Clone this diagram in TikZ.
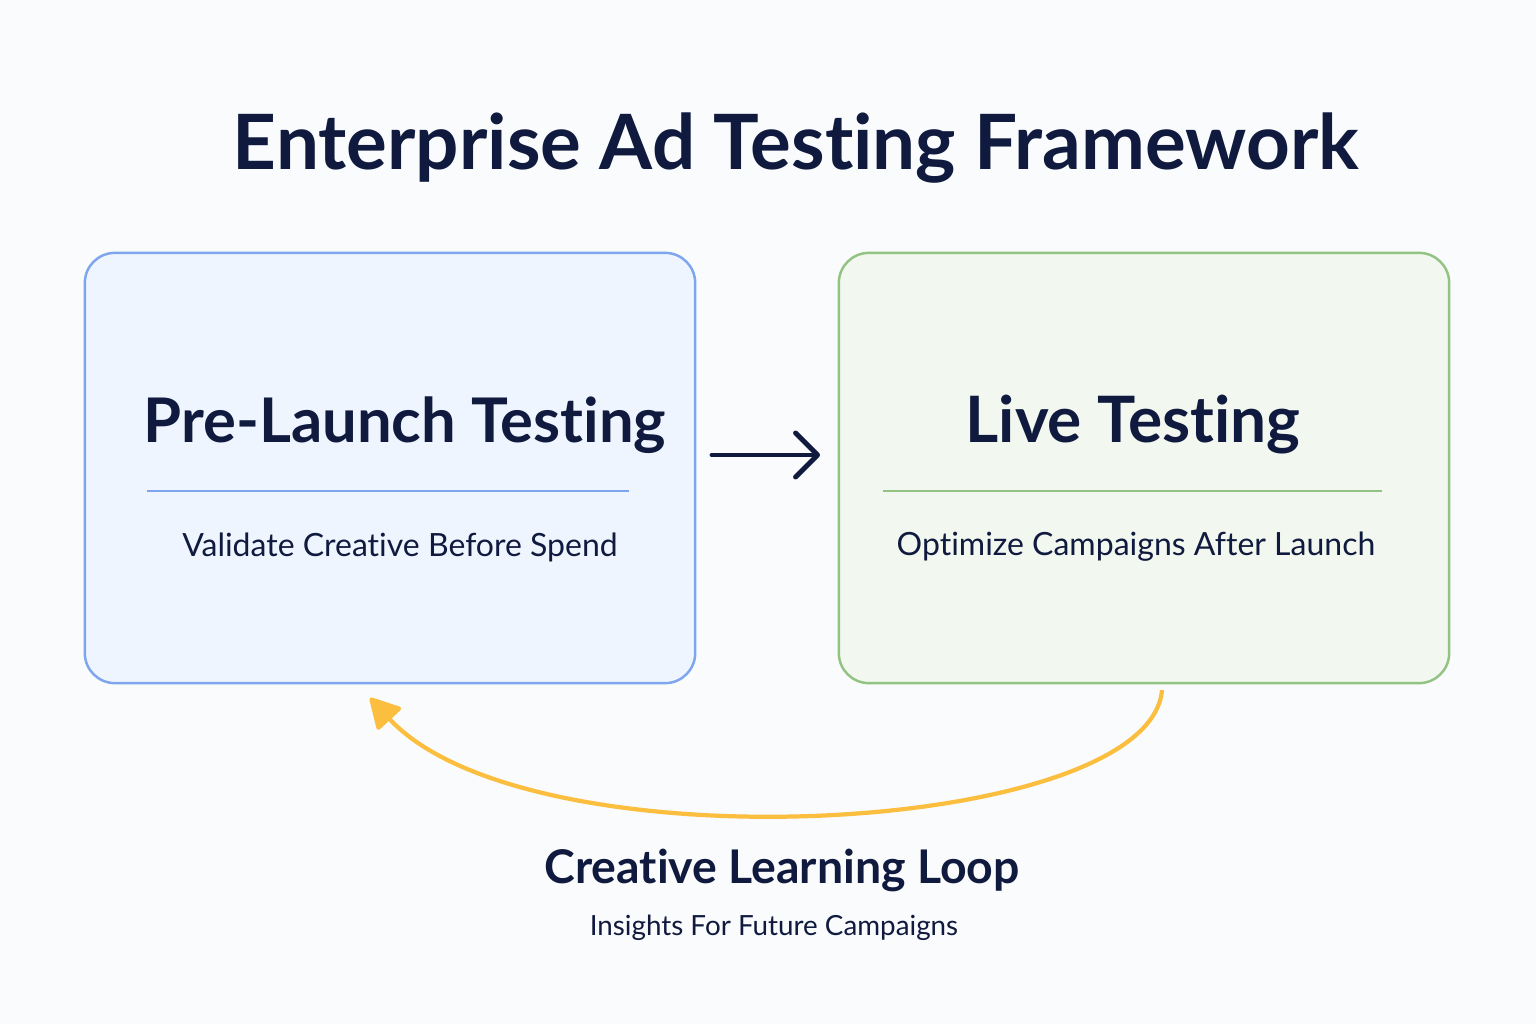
\documentclass[tikz,border=0pt]{standalone}
\usepackage{fontspec}
\setmainfont[Ligatures=NoCommon]{Lato}
\usepackage{xcolor}
\usetikzlibrary{positioning,arrows.meta}

\definecolor{inkblue}{HTML}{101A3E}
\definecolor{preline}{HTML}{7DA6EE}
\definecolor{prefill}{HTML}{EFF5FE}
\definecolor{liveline}{HTML}{93C383}
\definecolor{livefill}{HTML}{F2F7EF}
\definecolor{loopcol}{HTML}{FBBE3E}
\definecolor{pagebg}{HTML}{FAFBFC}

\begin{document}
\begin{tikzpicture}
[x=0.01cm, y=-0.01cm, text=inkblue,
    stage/.style={rectangle, rounded corners=0.3cm, line width=0.7pt,
        minimum width=6.1cm, minimum height=4.3cm, inner sep=0pt},
    stagetitle/.style={font=\fontsize{17.5}{21}\selectfont\bfseries},
    stagesub/.style={font=\fontsize{9.1}{11}\selectfont},
    rule/.style={line width=0.6pt}
    ]
    \fill[pagebg] (0,0) rectangle (1536,1024);
    \useasboundingbox (0,0) rectangle (1536,1024);

    \node[font=\fontsize{21.7}{26}\selectfont\bfseries] (title) at (796,148) {Enterprise Ad Testing Framework};

    \node[stage, draw=preline, fill=prefill] (pre) at (390,468) {};
    \node[stage, draw=liveline, fill=livefill] (live) at (1144,468) {};

    \node[stagetitle] (pretitle) at (405,425) {Pre-Launch Testing};
    \node[stagetitle, font=\fontsize{18.2}{21}\selectfont\bfseries] (livetitle) at (1133,425) {Live Testing};

    \coordinate (prel) at (147,491);  \coordinate (prer) at (629,491);
    \coordinate (livel) at (883,491); \coordinate (liver) at (1382,491);
    \draw[rule, draw=preline] (prel) -- (prer);
    \draw[rule, draw=liveline] (livel) -- (liver);

    \node[stagesub] (presub) at (400,547) {Validate Creative Before Spend};
    \node[stagesub] (livesub) at (1136,547) {Optimize Campaigns After Launch};

    \coordinate (goA) at (712,455);
    \coordinate (goB) at (820,455);
    \draw[inkblue, line width=1.4pt, line cap=round,
        -{Straight Barb[length=2.2mm, width=4.4mm, line cap=round, line join=round]}] (goA) -- (goB);

    \coordinate (loopA) at (1162,690);
    \coordinate (loopB) at (370,698);
    \draw[loopcol, line width=1.2pt,
        -{Triangle[length=3.2mm, width=3.4mm, round]}]
        (loopA) .. controls (1150,835) and (530,870) .. (loopB);

    \node[font=\fontsize{13.2}{16}\selectfont\bfseries] (looptitle) at (782,870) {Creative Learning Loop};
    \node[font=\fontsize{7.9}{10}\selectfont] (loopsub) at (774,928) {Insights For Future Campaigns};
\end{tikzpicture}
\end{document}
